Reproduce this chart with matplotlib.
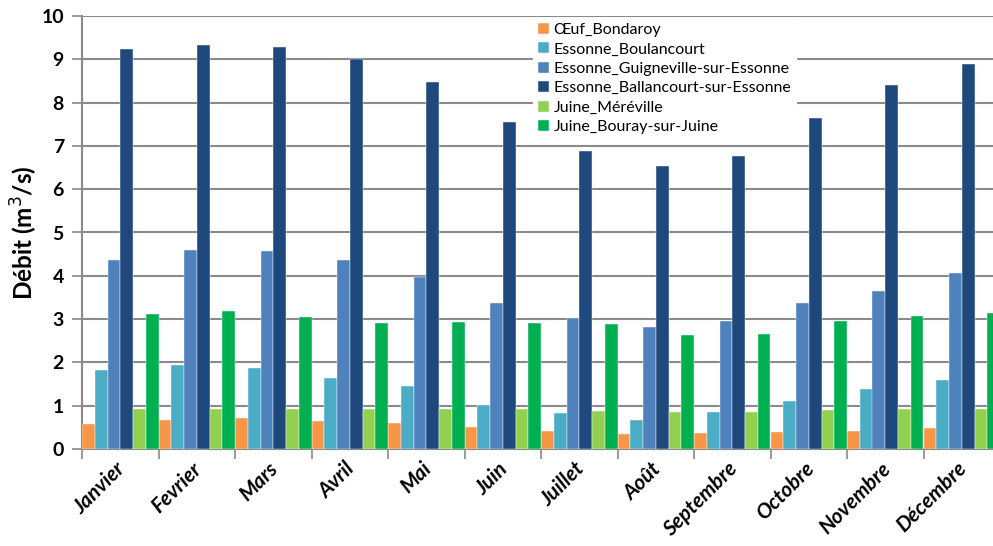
import matplotlib
matplotlib.use("Agg")
import matplotlib.pyplot as plt
import matplotlib.transforms as mtransforms
import numpy as np

months = ["Janvier", "Fevrier", "Mars", "Avril", "Mai", "Juin", "Juillet",
          "Août", "Septembre", "Octobre", "Novembre", "Décembre"]
series_names = ["Œuf_Bondaroy", "Essonne_Boulancourt", "Essonne_Guigneville-sur-Essonne",
                "Essonne_Ballancourt-sur-Essonne", "Juine_Méréville", "Juine_Bouray-sur-Juine"]

oeuf_bondaroy = [0.57, 0.67, 0.71, 0.65, 0.60, 0.50, 0.42, 0.35, 0.36, 0.39, 0.42, 0.49]
essonne_boulancourt = [1.83, 1.93, 1.87, 1.63, 1.46, 1.02, 0.82, 0.66, 0.86, 1.12, 1.38, 1.60]
essonne_guigneville = [4.36, 4.60, 4.58, 4.36, 3.98, 3.37, 3.02, 2.82, 2.95, 3.38, 3.65, 4.07]
essonne_ballancourt = [9.24, 9.34, 9.28, 9.01, 8.47, 7.55, 6.89, 6.53, 6.77, 7.64, 8.40, 8.90]
juine_mereville = [0.93, 0.92, 0.92, 0.93, 0.93, 0.92, 0.88, 0.86, 0.86, 0.90, 0.93, 0.93]
juine_bouray = [3.12, 3.18, 3.05, 2.92, 2.94, 2.91, 2.88, 2.63, 2.66, 2.96, 3.08, 3.15]

colors = ["#F79646", "#4BACC6", "#4F81BD", "#1F497D", "#92D050", "#00B050"]
yticks = list(range(0, 11))

all_series = [oeuf_bondaroy, essonne_boulancourt, essonne_guigneville,
              essonne_ballancourt, juine_mereville, juine_bouray]

plt.rcParams['font.family'] = ['Lato', 'DejaVu Sans']

fig = plt.figure(figsize=(9.93, 5.46), dpi=100)
ax = fig.add_axes([82/993, 97/546, 918/993, 433/546])

x = np.arange(len(months))
n = len(all_series)
w = 1.0 / n
for j, (vals, name, c) in enumerate(zip(all_series, series_names, colors)):
    ax.bar(x + (j - (n - 1) / 2) * w, vals, width=w, color=c, label=name,
           edgecolor="#ffffff", linewidth=0.3, zorder=3)

ax.set_xlim(-0.5, len(months) - 0.5)
ax.set_ylim(0, 10)
ax.set_yticks(yticks)
ax.set_yticklabels([str(t) for t in yticks], fontsize=14, fontweight='bold')
ax.yaxis.grid(True, color="#8a8a8a", linewidth=1.5, zorder=0)
ax.set_axisbelow(True)

ax.set_xticks(x)
ax.set_xticklabels(months, rotation=45, ha='right', va='top', rotation_mode='anchor',
                   fontsize=15, fontweight='bold', fontstyle='italic')
ax.tick_params(axis='x', which='major', length=0, pad=7)
offset = mtransforms.ScaledTranslation(-5/100, 0, fig.dpi_scale_trans)
for lab in ax.get_xticklabels():
    lab.set_transform(lab.get_transform() + offset)
ax.set_xticks(np.arange(-0.5, len(months), 1.0), minor=True)
ax.tick_params(axis='x', which='minor', length=7, width=1.2, color="#8a8a8a")
ax.tick_params(axis='y', length=7, width=1.2, color="#8a8a8a", pad=6)

for s in ['top', 'right']:
    ax.spines[s].set_visible(False)
for s in ['left', 'bottom']:
    ax.spines[s].set_color("#8a8a8a")
    ax.spines[s].set_linewidth(1.5)

ax.set_ylabel("Débit (m$^3$/s)", fontsize=17.5, fontweight='bold', labelpad=1)

leg = ax.legend(loc='upper left', bbox_to_anchor=(525/993, 1 - 10/546),
                bbox_transform=fig.transFigure, frameon=True, fontsize=11.5,
                handlelength=0.7, handleheight=0.7, handletextpad=0.3,
                labelspacing=0.33, borderpad=0.3)
leg.get_frame().set_facecolor('white')
leg.get_frame().set_edgecolor('white')
leg.get_frame().set_alpha(1)
leg.set_zorder(5)

fig.savefig("out.png", dpi=100)
